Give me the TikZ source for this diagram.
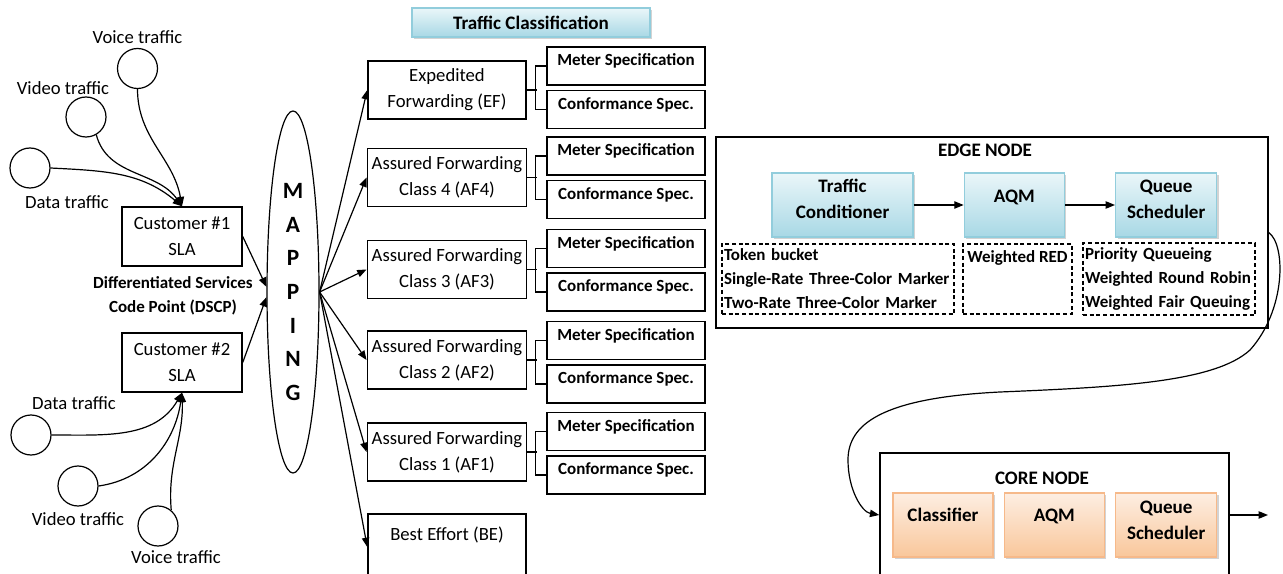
\documentclass[tikz,border=0pt]{standalone}
\usepackage{fontspec}
\setmainfont{Carlito}
\usepackage{tikz}
\usetikzlibrary{positioning,shapes,shadows,arrows.meta}
\definecolor{EdgeTop}{HTML}{EAF6F9}
\definecolor{EdgeBot}{HTML}{A8D8E5}
\definecolor{EdgeLine}{HTML}{92CDDC}
\definecolor{CoreTop}{HTML}{FDEEE2}
\definecolor{CoreBot}{HTML}{F9C79B}
\definecolor{CoreLine}{HTML}{F6B98A}
\newcommand{\RegFont}{\fontsize{14pt}{19.5pt}\selectfont}
\newcommand{\BoldFont}{\fontsize{12.75pt}{18pt}\selectfont\bfseries}
\newcommand{\TitleFont}{\fontsize{14.3pt}{19.5pt}\selectfont\bfseries}
\newcommand{\MapFont}{\fontsize{17.5pt}{25.3pt}\selectfont\bfseries}
\tikzstyle{TrafficNode}=[circle, draw=black, line width=0.9pt, minimum size=30pt, inner sep=0pt]
\tikzstyle{LabelNode}=[font=\RegFont, inner sep=1pt]
\tikzstyle{SlaNode}=[rectangle, draw=black, line width=1.1pt, minimum width=90pt, minimum height=44.25pt, align=center, font=\RegFont]
\tikzstyle{MapNode}=[ellipse, draw=black, line width=0.9pt, minimum width=39pt, minimum height=271.5pt, inner sep=0pt, align=center, font=\MapFont]
\tikzstyle{ClassNode}=[rectangle, draw=black, line width=1.1pt, minimum width=118.5pt, minimum height=43.5pt, align=center, font=\RegFont]
\tikzstyle{SpecNode}=[rectangle, draw=black, line width=1.1pt, minimum width=118.5pt, inner ysep=0pt, text height=14.25pt, text depth=14.25pt, font=\BoldFont]
\tikzstyle{TitleNode}=[rectangle, draw=EdgeLine, line width=1pt, top color=EdgeTop, bottom color=EdgeBot, drop shadow={shadow xshift=1.5pt, shadow yshift=-1.5pt, opacity=0.35}, font=\TitleFont]
\tikzstyle{GroupNode}=[rectangle, draw=black, line width=1.1pt]
\tikzstyle{EdgeBlockNode}=[rectangle, draw=EdgeLine, line width=1pt, top color=EdgeTop, bottom color=EdgeBot, drop shadow={shadow xshift=1.5pt, shadow yshift=-1.5pt, opacity=0.35}, inner ysep=0pt, align=center, font=\TitleFont]
\tikzstyle{CoreBlockNode}=[rectangle, draw=CoreLine, line width=1pt, top color=CoreTop, bottom color=CoreBot, drop shadow={shadow xshift=1.5pt, shadow yshift=-1.5pt, opacity=0.35}, minimum width=75pt, inner ysep=0pt, align=center, font=\TitleFont]
\tikzstyle{ListNode}=[rectangle, draw=black, line width=1pt, dash pattern=on 3pt off 2pt, font=\BoldFont, inner xsep=1.5pt]

\begin{document}
\begin{tikzpicture}[x=0.75pt, y=-0.75pt, >={Triangle[length=7pt,width=5.5pt]}, line width=0.9pt]
    \useasboundingbox (0,0) rectangle (1283,574);

    % customers and their traffic
    \node (cust1) [SlaNode] at (182,236.5) {Customer \#1\\SLA};
    \node (cust2) [SlaNode] at (182,362.5) {Customer \#2\\SLA};
    \node (voiceA) [TrafficNode] at (137.5,68.5) {};
    \node (videoA) [TrafficNode] at (86,117) {};
    \node (dataA) [TrafficNode] at (30,168) {};
    \node (dataB) [TrafficNode] at (31,435) {};
    \node (videoB) [TrafficNode] at (78,486) {};
    \node (voiceB) [TrafficNode] at (158,526) {};
    \node (voiceLblA) [LabelNode, above=2pt of voiceA] {Voice traffic};
    \node (videoLblA) [LabelNode] at (63,88) {Video traffic};
    \node (dataLblA) [LabelNode] at (67,202) {Data traffic};
    \node (dataLblB) [LabelNode] at (74,403) {Data traffic};
    \node (videoLblB) [LabelNode] at (78,519) {Video traffic};
    \node (voiceLblB) [LabelNode] at (176,557) {Voice traffic};
    \node (dscp) [align=center, font=\BoldFont] at (173,295.5) {Differentiated Services\\Code Point (DSCP)};

    \node (map) [MapNode] at (293,292) {M\\A\\P\\P\\I\\N\\G};
    \node (tcls) [TitleNode, minimum width=178.5pt, minimum height=21.75pt] at (531,22.5) {Traffic Classification};

    % classes
    \node (ef) [ClassNode] at (447,90) {Expedited\\Forwarding (EF)};
    \node (af4) [ClassNode] at (447,177.5) {Assured Forwarding\\Class 4 (AF4)};
    \node (af3) [ClassNode] at (447,269.5) {Assured Forwarding\\Class 3 (AF3)};
    \node (af2) [ClassNode] at (447,360) {Assured Forwarding\\Class 2 (AF2)};
    \node (af1) [ClassNode] at (447,452) {Assured Forwarding\\Class 1 (AF1)};
    \node (be) [ClassNode, minimum height=49.5pt] at (447,547) {Best Effort (BE)\\\mbox{}};

    % meter and conformance
    \node (mEF) [SpecNode] at (626,66) {Meter Specification};
    \node (cEF) [SpecNode, below=3pt of mEF] {Conformance Spec.};
    \node (mAF4) [SpecNode] at (626,156) {Meter Specification};
    \node (cAF4) [SpecNode, below=3pt of mAF4] {Conformance Spec.};
    \node (mAF3) [SpecNode] at (626,248.5) {Meter Specification};
    \node (cAF3) [SpecNode, below=3pt of mAF3] {Conformance Spec.};
    \node (mAF2) [SpecNode] at (626,340.5) {Meter Specification};
    \node (cAF2) [SpecNode, below=3pt of mAF2] {Conformance Spec.};
    \node (mAF1) [SpecNode] at (626,431.5) {Meter Specification};
    \node (cAF1) [SpecNode, below=3pt of mAF1] {Conformance Spec.};

    % edge node
    \node (edge) [GroupNode, minimum width=414pt, minimum height=143.25pt] at (992,232.5) {};
    \node (edgeTitle) [font=\TitleFont] at (985,150) {EDGE NODE};
    \node (tc) [EdgeBlockNode, minimum width=105.75pt, text height=34.5pt, text depth=13.5pt] at (842.5,205) {Traffic\\Conditioner};
    \node (aqm) [EdgeBlockNode, minimum width=75pt, text height=22.5pt, text depth=25.5pt, right=37.5pt of tc] {AQM};
    \node (qs) [EdgeBlockNode, minimum width=75.75pt, text height=34.5pt, text depth=13.5pt, right=37.5pt of aqm] {Queue\\Scheduler};
    \node (tb) [ListNode, minimum height=52.5pt, text width=171pt, align=left] at (838,279) {Token bucket\\Single-Rate Three-Color Marker\\Two-Rate Three-Color Marker};
    \node (red) [ListNode, minimum width=81.75pt, inner ysep=0pt, text height=13.9pt, text depth=38.6pt] at (1017.5,279) {Weighted RED};
    \node (pq) [ListNode, minimum height=52.5pt, text width=126pt, align=left] at (1169,279) {Priority Queueing\\Weighted Round Robin\\Weighted Fair Queuing};

    % core node
    \node (core) [GroupNode, minimum width=261.75pt, minimum height=93pt] at (1054.5,515) {};
    \node (coreTitle) [font=\TitleFont] at (1042,478) {CORE NODE};
    \node (cls) [CoreBlockNode, text height=21pt, text depth=27pt] at (943,525) {Classifier};
    \node (aqmCore) [CoreBlockNode, text height=21pt, text depth=27pt, right=7.5pt of cls] {AQM};
    \node (qsCore) [CoreBlockNode, minimum width=75.75pt, text height=34.5pt, text depth=13.5pt, right=7.5pt of aqmCore] {Queue\\Scheduler};
    \coordinate (coreOut) at (1268,515);

    \draw [->] (voiceA.south) to[out=-90, in=100] (cust1.north);
    \draw [->] (videoA.-60) to[out=-75, in=125] (cust1.north);
    \draw [->] (dataA.east) to[out=-3, in=140] (cust1.north);
    \draw [->] (dataB.east) to[out=0, in=-120] (cust2.south);
    \draw [->] (videoB.east) to[out=8, in=-98] (cust2.south);
    \draw [->] (voiceB.50) to[out=95, in=-88] (cust2.south);
    \draw [->] (cust1.east) -- (map.169);
    \draw [->] (cust2.east) -- (map.191);
    \draw [->] (map.east) -- (ef.west);
    \draw [->] (map.east) -- (af4.west);
    \draw [->] (map.east) -- (af3.west);
    \draw [->] (map.east) -- (af2.west);
    \draw [->] (map.east) -- (af1.west);
    \draw [->] (map.east) -- (be.west);
    \draw (ef.east) -- ++(10,0);
    \draw (mEF.west) -- ++(-11,0) |- (cEF.west);
    \draw (af4.east) -- ++(10,0);
    \draw (mAF4.west) -- ++(-11,0) |- (cAF4.west);
    \draw (af3.east) -- ++(10,0);
    \draw (mAF3.west) -- ++(-11,0) |- (cAF3.west);
    \draw (af2.east) -- ++(10,0);
    \draw (mAF2.west) -- ++(-11,0) |- (cAF2.west);
    \draw (af1.east) -- ++(10,0);
    \draw (mAF1.west) -- ++(-11,0) |- (cAF1.west);
    \draw [->] (tc) -- (aqm);
    \draw [->] (aqm) -- (qs);
    \draw [->] (edge.east) .. controls (1286,245) and (1286,310) .. (1250,350)
        .. controls (1215,382) and (1120,387) .. (1000,392)
        .. controls (880,398) and (848,425) .. (848,460)
        .. controls (848,490) and (862,512) .. (core.west);
    \draw [->] (core.east) -- (coreOut);
  \end{tikzpicture}
\end{document}
